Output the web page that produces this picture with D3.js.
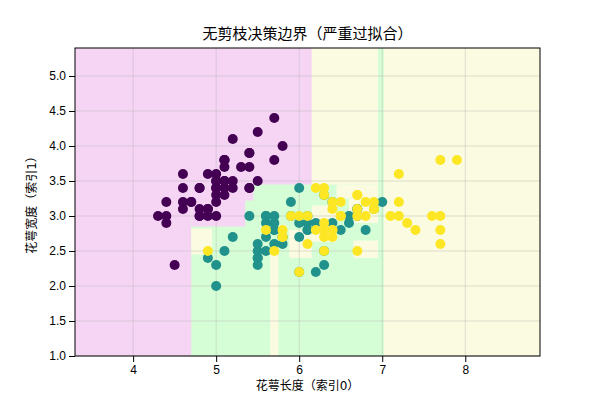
<!DOCTYPE html><html><head><meta charset="utf-8">
<script src="https://cdn.jsdelivr.net/npm/d3@7"></script>
<style>body{margin:0;background:#fff}svg{font-family:"DejaVu Sans","Noto Sans CJK SC",sans-serif}</style></head><body>
<svg id="c" width="600" height="400"></svg>
<script>
const setosa=[[5.1,3.5],[4.9,3.0],[4.7,3.2],[4.6,3.1],[5.0,3.6],[5.4,3.9],[4.6,3.4],[5.0,3.4],[4.4,2.9],[4.9,3.1],[5.4,3.7],[4.8,3.4],[4.8,3.0],[4.3,3.0],[5.8,4.0],[5.7,4.4],[5.4,3.9],[5.1,3.5],[5.7,3.8],[5.1,3.8],[5.4,3.4],[5.1,3.7],[4.6,3.6],[5.1,3.3],[4.8,3.4],[5.0,3.0],[5.0,3.4],[5.2,3.5],[5.2,3.4],[4.7,3.2],[4.8,3.1],[5.4,3.4],[5.2,4.1],[5.5,4.2],[4.9,3.1],[5.0,3.2],[5.5,3.5],[4.9,3.6],[4.4,3.0],[5.1,3.4],[5.0,3.5],[4.5,2.3],[4.4,3.2],[5.0,3.5],[5.1,3.8],[4.8,3.0],[5.1,3.8],[4.6,3.2],[5.3,3.7],[5.0,3.3]];
const versicolor=[[7.0,3.2],[6.4,3.2],[6.9,3.1],[5.5,2.3],[6.5,2.8],[5.7,2.8],[6.3,3.3],[4.9,2.4],[6.6,2.9],[5.2,2.7],[5.0,2.0],[5.9,3.0],[6.0,2.2],[6.1,2.9],[5.6,2.9],[6.7,3.1],[5.6,3.0],[5.8,2.7],[6.2,2.2],[5.6,2.5],[5.9,3.2],[6.1,2.8],[6.3,2.5],[6.1,2.8],[6.4,2.9],[6.6,3.0],[6.8,2.8],[6.7,3.0],[6.0,2.9],[5.7,2.6],[5.5,2.4],[5.5,2.4],[5.8,2.7],[6.0,2.7],[5.4,3.0],[6.0,3.4],[6.7,3.1],[6.3,2.3],[5.6,3.0],[5.5,2.5],[5.5,2.6],[6.1,3.0],[5.8,2.6],[5.0,2.3],[5.6,2.7],[5.7,3.0],[5.7,2.9],[6.2,2.9],[5.1,2.5],[5.7,2.8]];
const virginica=[[6.3,3.3],[5.8,2.7],[7.1,3.0],[6.3,2.9],[6.5,3.0],[7.6,3.0],[4.9,2.5],[7.3,2.9],[6.7,2.5],[7.2,3.6],[6.5,3.2],[6.4,2.7],[6.8,3.0],[5.7,2.5],[5.8,2.8],[6.4,3.2],[6.5,3.0],[7.7,3.8],[7.7,2.6],[6.0,2.2],[6.9,3.2],[5.6,2.8],[7.7,2.8],[6.3,2.7],[6.7,3.3],[7.2,3.2],[6.2,2.8],[6.1,3.0],[6.4,2.8],[7.2,3.0],[7.4,2.8],[7.9,3.8],[6.4,2.8],[6.3,2.8],[6.1,2.6],[7.7,3.0],[6.3,3.4],[6.4,3.1],[6.0,3.0],[6.9,3.1],[6.7,3.1],[6.9,3.1],[5.8,2.7],[6.8,3.2],[6.7,3.3],[6.7,3.0],[6.3,2.5],[6.5,3.0],[6.2,3.4],[5.9,3.0]];
// decision regions: [x0,x1,y0,y1,class]
const regions=[[3.3,8.9,1.0,5.4,2],[3.3,6.15,1.0,5.4,0],[4.7,6.97,1.0,3.45,1],[6.95,7.02,1.0,5.4,1],
[4.7,5.35,2.85,3.45,0],[5.35,5.45,3.22,3.45,0],
[4.7,4.95,2.45,2.82,2],[5.65,5.75,1.0,2.5,2],[5.75,5.85,2.63,2.87,2],[5.88,6.15,2.4,2.8,2],
[6.15,6.45,2.63,3.15,2],[6.45,6.95,3.25,3.45,2],[6.6,6.95,2.9,3.25,2],[6.65,6.95,2.4,2.65,2]];
const xTicks=[4,5,6,7,8], yTicks=[1.0,1.5,2.0,2.5,3.0,3.5,4.0,4.5,5.0];
const ptCol=["#440154","#21918c","#fde725"], bgCol=["#f6d5f4","#d6fed6","#fafbe0"];
const svg=d3.select("#c"),L=75,R=540,T=48,B=356;
const x=d3.scaleLinear().domain([3.3,8.9]).range([L,R]);
const y=d3.scaleLinear().domain([1.0,5.4]).range([B,T]);
svg.selectAll("rect.r").data(regions).join("rect").attr("x",d=>x(d[0])).attr("width",d=>x(d[1])-x(d[0]))
 .attr("y",d=>y(d[3])).attr("height",d=>y(d[2])-y(d[3])).attr("fill",d=>bgCol[d[4]]);
const g=svg.append("g");
xTicks.forEach(t=>g.append("line").attr("x1",x(t)).attr("x2",x(t)).attr("y1",T).attr("y2",B).attr("stroke","#b0b0b0").attr("stroke-opacity",0.4));
yTicks.forEach(t=>g.append("line").attr("y1",y(t)).attr("y2",y(t)).attr("x1",L).attr("x2",R).attr("stroke","#b0b0b0").attr("stroke-opacity",0.4));
[setosa,versicolor,virginica].forEach((s,i)=>svg.append("g").selectAll("circle").data(s).join("circle")
 .attr("cx",d=>x(d[0])).attr("cy",d=>y(d[1])).attr("r",5).attr("fill",ptCol[i]));
svg.append("rect").attr("x",L).attr("y",T).attr("width",R-L).attr("height",B-T).attr("fill","none").attr("stroke","#000");
svg.append("g").attr("transform",`translate(0,${B})`).call(d3.axisBottom(x).tickValues(xTicks).tickFormat(d3.format("d")).tickSizeOuter(0)).call(a=>a.select(".domain").remove()).selectAll("text").attr("font-size",12);
svg.append("g").attr("transform",`translate(${L},0)`).call(d3.axisLeft(y).tickValues(yTicks).tickFormat(d3.format(".1f")).tickSizeOuter(0)).call(a=>a.select(".domain").remove()).selectAll("text").attr("font-size",12);
svg.append("text").attr("x",(L+R)/2).attr("y",39).attr("text-anchor","middle").attr("font-size",15).text("无剪枝决策边界（严重过拟合）");
svg.append("text").attr("x",(L+R)/2).attr("y",390).attr("text-anchor","middle").attr("font-size",12).text("花萼长度（索引0）");
svg.append("text").attr("transform",`translate(36,${(T+B)/2}) rotate(-90)`).attr("text-anchor","middle").attr("font-size",12).text("花萼宽度（索引1）");
</script></body></html>
